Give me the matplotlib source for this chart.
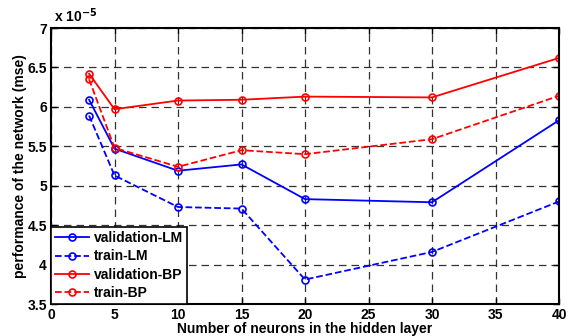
import matplotlib
matplotlib.use("Agg")
import matplotlib.pyplot as plt

plt.rcParams['font.family'] = ['Liberation Sans', 'DejaVu Sans']
plt.rcParams['font.weight'] = 'bold'

neurons = [3, 5, 10, 15, 20, 30, 40]
# mean squared error, in units of 1e-5
validation_lm = [6.09, 5.47, 5.19, 5.27, 4.83, 4.79, 5.83]
train_lm = [5.89, 5.13, 4.73, 4.71, 3.81, 4.16, 4.80]
validation_bp = [6.42, 5.97, 6.08, 6.09, 6.13, 6.12, 6.62]
train_bp = [6.35, 5.48, 5.24, 5.45, 5.40, 5.59, 6.14]

x_ticks = [0, 5, 10, 15, 20, 25, 30, 35, 40]
y_ticks = [3.5, 4, 4.5, 5, 5.5, 6, 6.5, 7]

fig = plt.figure(figsize=(5.68, 3.36), dpi=100)
ax = fig.add_axes([51/568, 1 - 304/336, (559-51)/568, (304-28)/336])

mk = dict(marker='o', markersize=5, markerfacecolor='none', markeredgewidth=1.2, linewidth=1.3)
ax.plot(neurons, validation_lm, '-', color='#0000ff', label='validation-LM', **mk)
ax.plot(neurons, train_lm, '--', color='#0000ff', label='train-LM', **mk)
ax.plot(neurons, validation_bp, '-', color='#ff0000', label='validation-BP', **mk)
ax.plot(neurons, train_bp, '--', color='#ff0000', label='train-BP', **mk)

ax.set_xlim(0, 40)
ax.set_ylim(3.5, 7)
ax.set_xticks(x_ticks)
ax.set_yticks(y_ticks)
ax.set_xticklabels([str(t) for t in x_ticks])
ax.set_yticklabels([f"{t:g}" for t in y_ticks])
ax.tick_params(direction='in', top=True, right=True, length=4, width=1, labelsize=10, pad=3)
for s in ax.spines.values():
    s.set_linewidth(1.5)
ax.grid(True, color='black', linestyle=(0, (6, 4)), linewidth=0.9, alpha=0.8)

ax.set_xlabel('Number of neurons in the hidden layer', fontsize=10, fontweight='bold', labelpad=0)
ax.set_ylabel('performance of the network (mse)', fontsize=10, fontweight='bold', labelpad=0)
ax.text(0.005, 1.01, r'x 10$^{\mathbf{-5}}$', transform=ax.transAxes, fontsize=10,
        fontweight='bold', ha='left', va='bottom')

leg = ax.legend(loc='lower left', fontsize=10, frameon=True, fancybox=False,
                borderaxespad=0.0, handlelength=2.4, handletextpad=0.4,
                labelspacing=0.3, borderpad=0.3)
leg.get_frame().set_edgecolor('black')
leg.get_frame().set_linewidth(1.2)
leg.get_frame().set_alpha(1)

fig.savefig('out.png', dpi=100)
